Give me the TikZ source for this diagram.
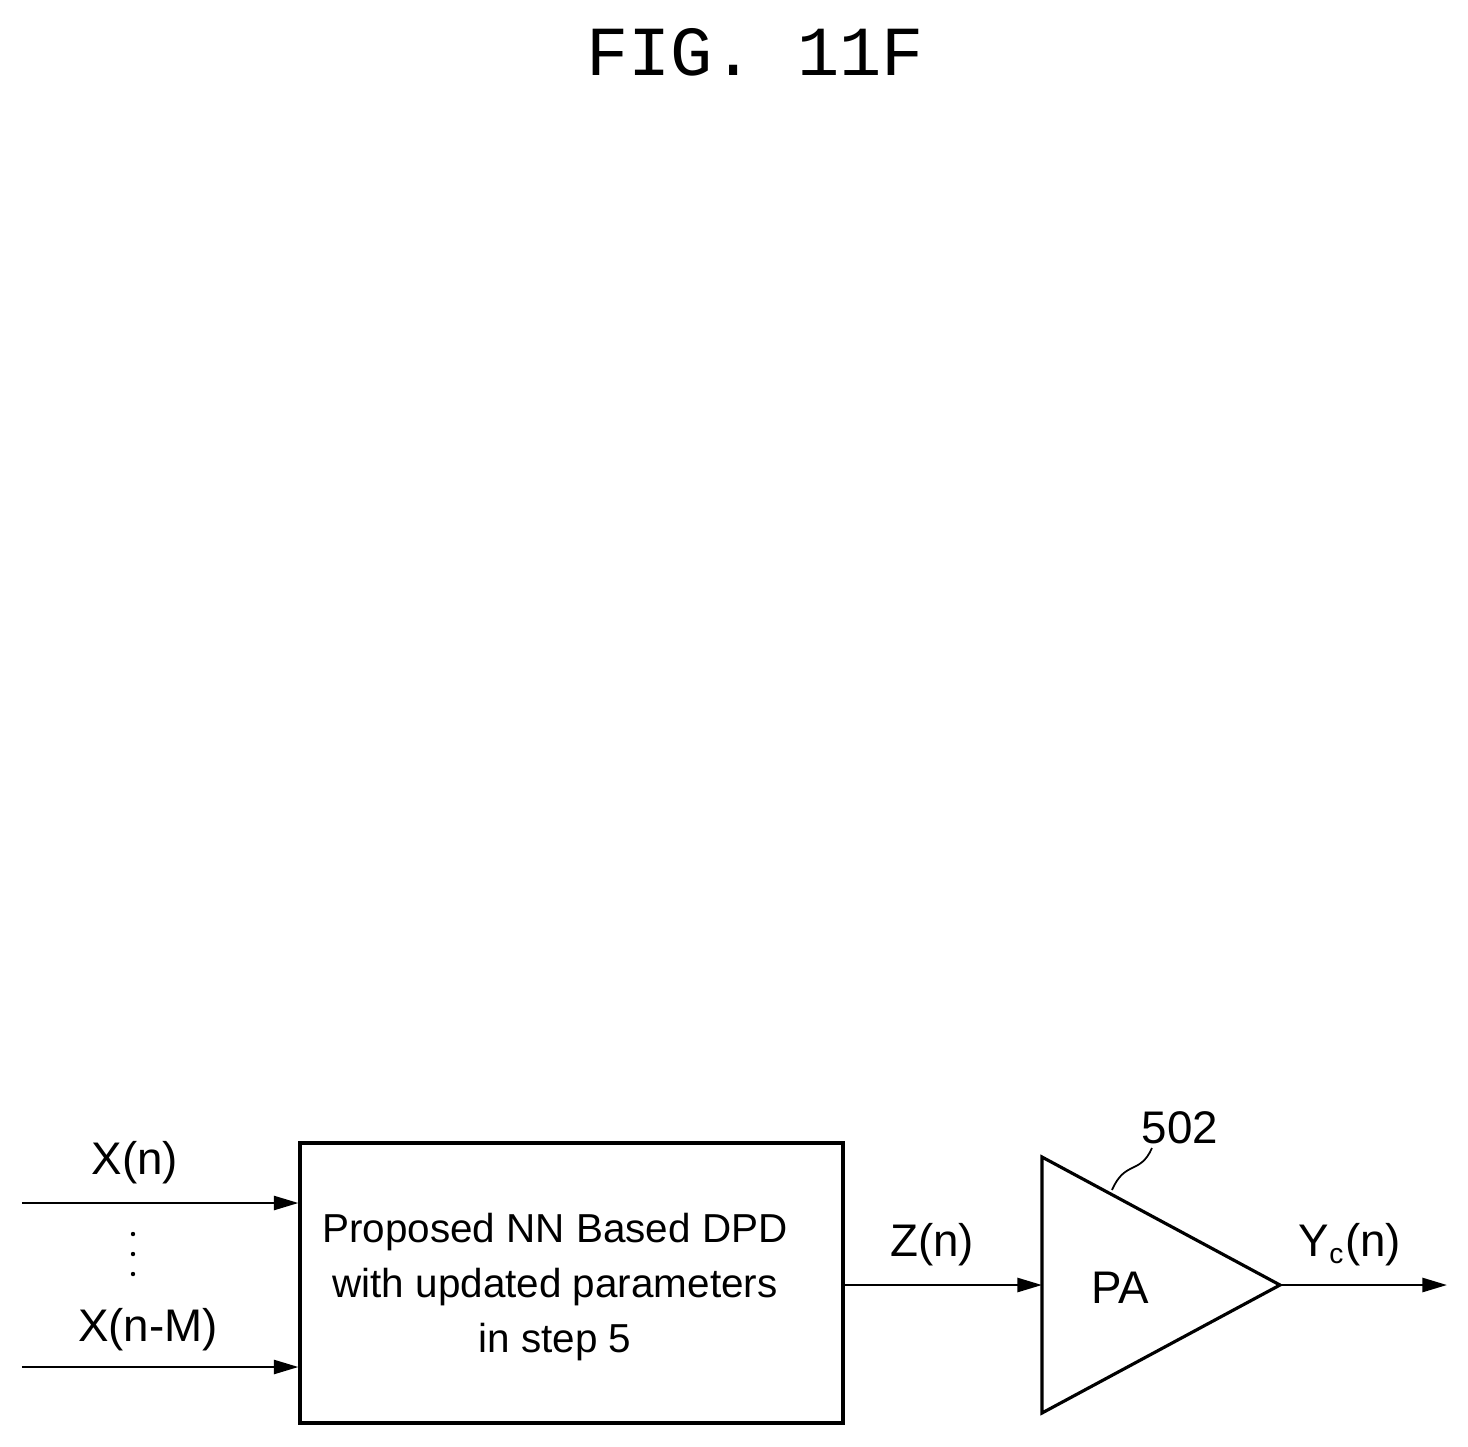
\documentclass[tikz,border=0pt]{standalone}
\usepackage{fontspec}
\setmainfont{Liberation Sans}
\newfontfamily\monofont{Liberation Mono}
\usetikzlibrary{arrows.meta}
\tikzset{
	sig/.style={line width=0.7pt, -{Triangle[length=7pt,width=4pt]}},
	lbl/.style={font=\fontsize{13}{15}\selectfont, inner sep=0pt},
}
\begin{document}
\begin{tikzpicture}[x=0.01cm,y=-0.01cm]
	\useasboundingbox (0,0) rectangle (1468,1447);
	\node[font=\monofont\fontsize{20}{20}\selectfont] (title) at (755,52) {FIG. 11F};
	% DPD block
	\node[draw, line width=0.9pt, minimum width=543*0.01cm, minimum height=280*0.01cm, inner sep=0pt] (dpd) at (571.5,1283) {};
	\node[lbl, align=center, font=\fontsize{11.5}{15.6}\selectfont] (dpdtxt) at (555,1287)
		{Proposed NN Based DPD\\with updated parameters\\in step 5};
	% inputs
	\coordinate (in1) at (22,1203);
	\coordinate (dpd1) at (dpd.west |- in1);
	\coordinate (in2) at (22,1367);
	\coordinate (dpd2) at (dpd.west |- in2);
	\draw[sig] (in1) -- (dpd1);
	\draw[sig] (in2) -- (dpd2);
	\node[lbl] (xn) at (135,1163) {X(n)};
	\node[lbl] (xnm) at (148,1330) {X(n-M)};
	\foreach \y in {1234,1254,1274}
		\fill (133,\y) circle (2.2);
	% PA
	\coordinate (paL) at (1042,1285);
	\coordinate (paT) at (1280,1285);
	\draw[line width=0.9pt] (1042,1157) -- (paT) -- (1042,1413) -- cycle;
	\node[lbl] (pa) at (1120,1288) {PA};
	\node[lbl] (num) at (1180,1128) {502};
	\draw[line width=0.5pt] (1112,1190) .. controls (1125,1160) and (1140,1175) .. (1152,1148);
	\coordinate (dpdR) at (dpd.east |- paL);
	\draw[sig] (dpdR) -- (paL);
	\node[lbl] (zn) at (932,1245) {Z(n)};
	\coordinate (out) at (1447,1285);
	\draw[sig] (paT) -- (out);
	\node[lbl] (yc) at (1350,1245) {Y\textsubscript{\fontsize{8}{8}\selectfont c}(n)};
\end{tikzpicture}
\end{document}
